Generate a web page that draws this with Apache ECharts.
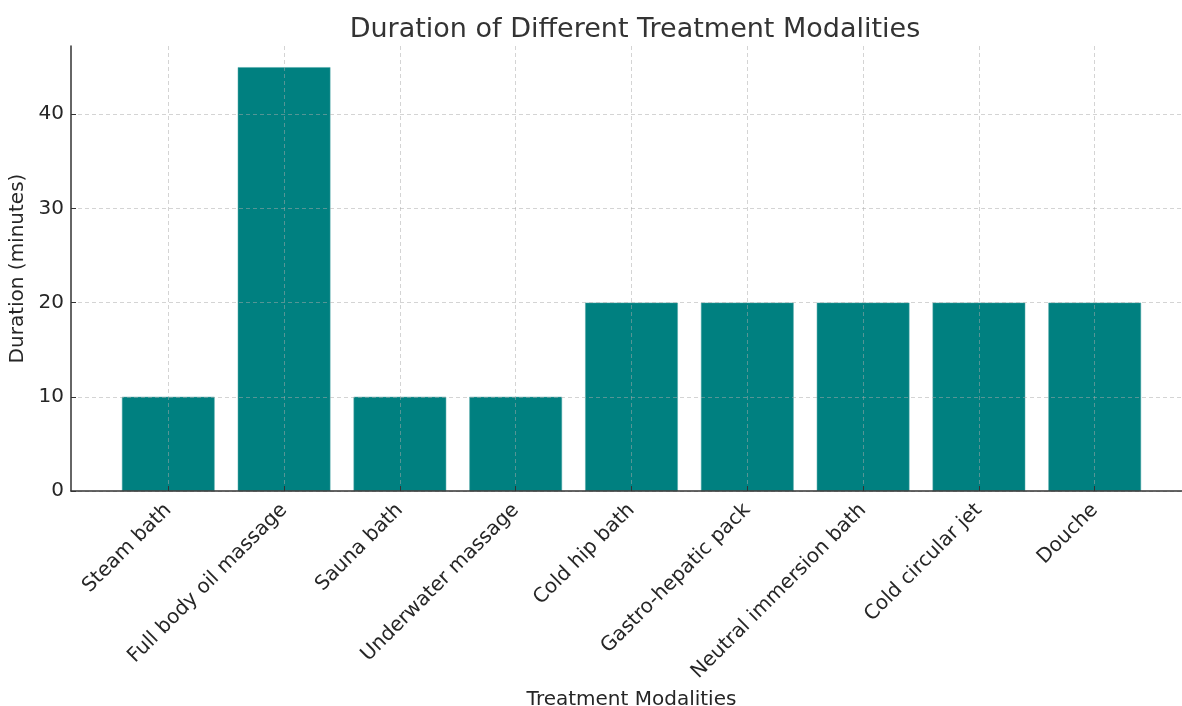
<!DOCTYPE html>
<html>
<head>
<meta charset="utf-8">
<script src="https://cdn.jsdelivr.net/npm/echarts@6/dist/echarts.min.js"></script>
<style>
html,body{margin:0;padding:0;background:#fff;overflow:hidden;}
#c{width:1182px;height:706px;}
</style>
</head>
<body>
<div id="c"></div>
<script>
const categories = ['Steam bath','Full body oil massage','Sauna bath','Underwater massage','Cold hip bath','Gastro-hepatic pack','Neutral immersion bath','Cold circular jet','Douche'];
const durations = [10, 45, 10, 10, 20, 20, 20, 20, 20];
const yTicks = [0, 10, 20, 30, 40];

const positions = categories.map((c, i) => i);
const font = 'DejaVu Sans';
const gridColor = 'rgba(170,170,170,0.5)';
const chart = echarts.init(document.getElementById('c'));
chart.setOption({
  animation: false,
  title: {
    text: 'Duration of Different Treatment Modalities',
    left: 630, top: 11, textAlign: 'center',
    textStyle: {fontFamily: font, fontSize: 27, fontWeight: 'normal', color: '#333'}
  },
  grid: {left: 71, top: 46, width: 1121, height: 445, containLabel: false, outerBoundsMode: 'none'},
  xAxis: {
    type: 'value', min: -0.84, max: 8.84, z: 5,
    name: 'Treatment Modalities', nameLocation: 'middle', nameGap: 199,
    nameTextStyle: {fontFamily: font, fontSize: 20, color: '#262626'},
    axisLine: {show: true, onZero: false, lineStyle: {color: '#333', width: 1.5}},
    axisTick: {show: true, inside: true, length: 5, customValues: positions, lineStyle: {color: '#333'}},
    axisLabel: {customValues: positions, rotate: 45, margin: 16, fontFamily: font, fontSize: 20, color: '#262626',
      formatter: v => categories[Math.round(v)] || ''},
    splitLine: {show: true, lineStyle: {color: gridColor, type: [4, 3], width: 1}}
  },
  yAxis: {
    type: 'value', min: 0, max: 47.25, z: 5,
    name: 'Duration (minutes)', nameLocation: 'middle', nameGap: 40,
    nameTextStyle: {fontFamily: font, fontSize: 20, color: '#262626'},
    axisLine: {show: true, onZero: false, lineStyle: {color: '#333', width: 1.5}},
    axisTick: {show: true, inside: true, length: 5, customValues: yTicks, lineStyle: {color: '#333'}},
    axisLabel: {customValues: yTicks, margin: 7, fontFamily: font, fontSize: 20, color: '#262626'},
    splitLine: {show: true, lineStyle: {color: gridColor, type: [4, 3], width: 1}}
  },
  series: [{
    type: 'bar',
    data: durations.map((d, i) => [positions[i], d]),
    barWidth: '80%',
    itemStyle: {color: '#008080', borderColor: '#4da6a6', borderWidth: 0.5},
    z: 2
  }]
});
</script>
</body>
</html>
